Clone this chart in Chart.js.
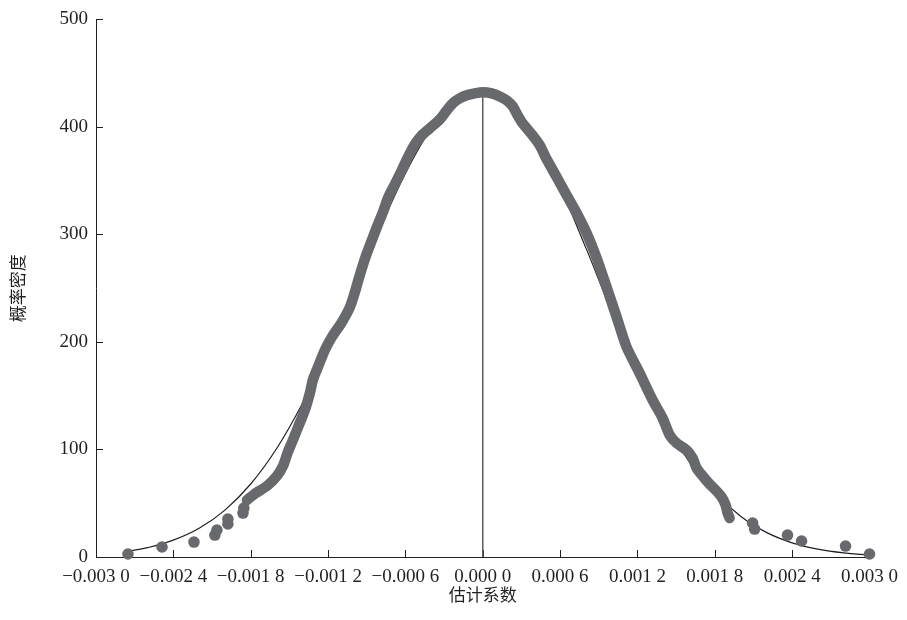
<!DOCTYPE html>
<html>
<head>
<meta charset="utf-8">
<script src="https://cdn.jsdelivr.net/npm/chart.js@4.4.1/dist/chart.umd.min.js"></script>
<style>
html,body{margin:0;padding:0;background:#fff;}
#wrap{width:907px;height:620px;}
</style>
</head>
<body>
<div id="wrap"><canvas id="c" width="907" height="620"></canvas></div>
<script>
// ---- Axis ticks ----
const xTicks = [-0.003, -0.0024, -0.0018, -0.0012, -0.0006, 0, 0.0006, 0.0012, 0.0018, 0.0024, 0.003];
const xTickLabels = ["\u22120.003 0", "\u22120.002 4", "\u22120.001 8", "\u22120.001 2", "\u22120.000 6",
                     "0.000 0", "0.000 6", "0.001 2", "0.001 8", "0.002 4", "0.003 0"];
const yTicks = [0, 100, 200, 300, 400, 500];
const xTitle = "估计系数";
const yTitle = "概率密度";

// ---- Normal reference curve (thin black line) ----
const normalX = [-0.00276, -0.0026, -0.0024, -0.0022, -0.0020, -0.0018, -0.0016, -0.0014, -0.0012, -0.0010,
                 -0.0008, -0.0006, -0.0004, -0.0002, 0, 0.0002, 0.0004, 0.0006, 0.0008, 0.0010,
                 0.0012, 0.0014, 0.0016, 0.0018, 0.0020, 0.0022, 0.0024, 0.0026, 0.0028, 0.0030];
const normalY = [5.3, 8.7, 15.7, 26.7, 43.6, 67.9, 100.7, 142.6, 192.4, 247.8,
                 304.4, 356.6, 398.4, 424.7, 431.8, 419.5, 388.5, 343.5, 287.5, 228.5,
                 175.0, 128.0, 89.0, 59.8, 37.9, 22.9, 13.2, 7.3, 3.8, 1.9];

// ---- Kernel density estimate (dense grey dots) ----
const kdeX = [-0.001829, -0.001760, -0.001674, -0.001597, -0.001550, -0.001512, -0.001473, -0.001426, -0.001380, -0.001341,
              -0.001318, -0.001279, -0.001225, -0.001171, -0.001093, -0.001031, -0.000992, -0.000961, -0.000930, -0.000899,
              -0.000860, -0.000822, -0.000775, -0.000736, -0.000682, -0.000628, -0.000581, -0.000527, -0.000473, -0.000411,
              -0.000333, -0.000279, -0.000233, -0.000178, -0.000124, -0.000062, 0.000000, 0.000070, 0.000132, 0.000186,
              0.000233, 0.000271, 0.000310, 0.000380, 0.000442, 0.000496, 0.000574, 0.000651, 0.000729, 0.000806,
              0.000884, 0.000961, 0.001039, 0.001116, 0.001217, 0.001318, 0.001395, 0.001450, 0.001504, 0.001581,
              0.001628, 0.001659, 0.001713, 0.001760, 0.001806, 0.001853, 0.001884, 0.001899, 0.001915];
const kdeY = [53.0, 59.5, 66.0, 75.3, 84.6, 97.6, 108.7, 122.7, 136.6, 152.4,
              164.5, 176.6, 192.4, 204.5, 218.4, 232.3, 246.3, 259.3, 271.4, 282.5,
              294.6, 306.7, 320.6, 333.6, 346.7, 359.7, 371.7, 383.8, 392.2, 398.7,
              407.1, 415.4, 421.9, 426.6, 429.4, 431.2, 432.2, 431.2, 428.4, 424.7,
              419.1, 410.8, 403.3, 393.1, 382.9, 369.9, 353.2, 336.4, 319.7, 301.1,
              277.9, 250.9, 223.0, 195.2, 171.0, 145.9, 129.2, 113.4, 105.9, 99.4,
              92.0, 82.7, 74.3, 67.8, 62.3, 55.8, 48.3, 40.9, 36.2];

// ---- Isolated tail dots ----
const tailX = [-0.002752, -0.002488, -0.002240, -0.002078, -0.002062, -0.001977, -0.001977, -0.001860, -0.001853,
               0.002093, 0.002109, 0.002364, 0.002473, 0.002814, 0.003000];
const tailY = [2.8, 9.3, 13.9, 20.4, 25.1, 30.7, 35.3, 40.9, 45.5,
               31.6, 26.0, 20.4, 14.9, 10.2, 2.8];

// ---- Vertical reference line at zero ----
const zeroX = [0, 0];
const zeroY = [0, 432];

const zip = (xs, ys) => xs.map((v, i) => ({x: v, y: ys[i]}));

const DOT = '#68696d';
const INK = '#231f20';

const inwardTicks = {
  id: 'inwardTicks',
  beforeDatasetsDraw(chart) {
    const {ctx, scales: {x, y}, chartArea: a} = chart;
    ctx.save();
    ctx.strokeStyle = INK;
    ctx.lineWidth = 1;
    ctx.beginPath();
    xTicks.forEach((v, i) => {
      if (i === 0) return;
      const px = Math.round(x.getPixelForValue(v)) + 0.5;
      ctx.moveTo(px, a.bottom);
      ctx.lineTo(px, a.bottom - 7);
    });
    yTicks.forEach((v, i) => {
      if (i === 0) return;
      const py = Math.round(y.getPixelForValue(v)) + 0.5;
      ctx.moveTo(a.left, py);
      ctx.lineTo(a.left + 7, py);
    });
    ctx.stroke();
    ctx.restore();
  }
};

const tickFont = {family: "'Liberation Serif', 'Times New Roman', serif", size: 19};
const titleFont = {family: "'Noto Sans CJK SC', sans-serif", size: 17};

new Chart(document.getElementById('c'), {
  type: 'scatter',
  data: {
    datasets: [
      {
        label: 'kde',
        data: zip(kdeX, kdeY),
        showLine: true,
        borderColor: DOT,
        borderWidth: 10.5,
        borderCapStyle: 'round',
        borderJoinStyle: 'round',
        tension: 0.25,
        pointRadius: 0,
        clip: false
      },
      {
        label: 'tail',
        data: zip(tailX, tailY),
        showLine: false,
        pointRadius: 5.8,
        pointBackgroundColor: DOT,
        pointBorderWidth: 0,
        clip: false
      },
      {
        label: 'normal',
        data: zip(normalX, normalY),
        showLine: true,
        borderColor: INK,
        borderWidth: 1.2,
        tension: 0.4,
        pointRadius: 0,
        clip: false
      },
      {
        label: 'zero',
        data: zip(zeroX, zeroY),
        showLine: true,
        borderColor: '#5c5d60',
        borderWidth: 1.5,
        pointRadius: 0
      }
    ]
  },
  options: {
    responsive: false,
    animation: false,
    devicePixelRatio: 1,
    layout: {padding: {top: 19, right: 36, left: 0, bottom: 0}},
    plugins: {legend: {display: false}, tooltip: {enabled: false}},
    events: [],
    scales: {
      x: {
        type: 'linear',
        min: -0.003,
        max: 0.003,
        afterBuildTicks: s => { s.ticks = xTicks.map(v => ({value: v})); },
        afterFit: s => { s.height = 63; },
        grid: {display: false, drawTicks: false},
        border: {display: true, color: INK, width: 1},
        ticks: {
          autoSkip: false,
          maxRotation: 0,
          font: tickFont,
          color: INK,
          padding: 9,
          callback: (v) => {
            const i = xTicks.findIndex(t => Math.abs(t - v) < 1e-9);
            return i >= 0 ? xTickLabels[i] : '';
          }
        },
        title: {display: true, text: xTitle, font: titleFont, color: INK, padding: {top: 0, bottom: 15}}
      },
      y: {
        type: 'linear',
        min: 0,
        max: 500,
        afterBuildTicks: s => { s.ticks = yTicks.map(v => ({value: v})); },
        afterFit: s => { s.width = 96; },
        grid: {display: false, drawTicks: false},
        border: {display: true, color: INK, width: 1},
        ticks: {font: tickFont, color: INK, padding: 8},
        title: {display: true, text: yTitle, font: titleFont, color: INK, padding: {top: 7, bottom: 0}}
      }
    }
  },
  plugins: [inwardTicks]
});
</script>
</body>
</html>
